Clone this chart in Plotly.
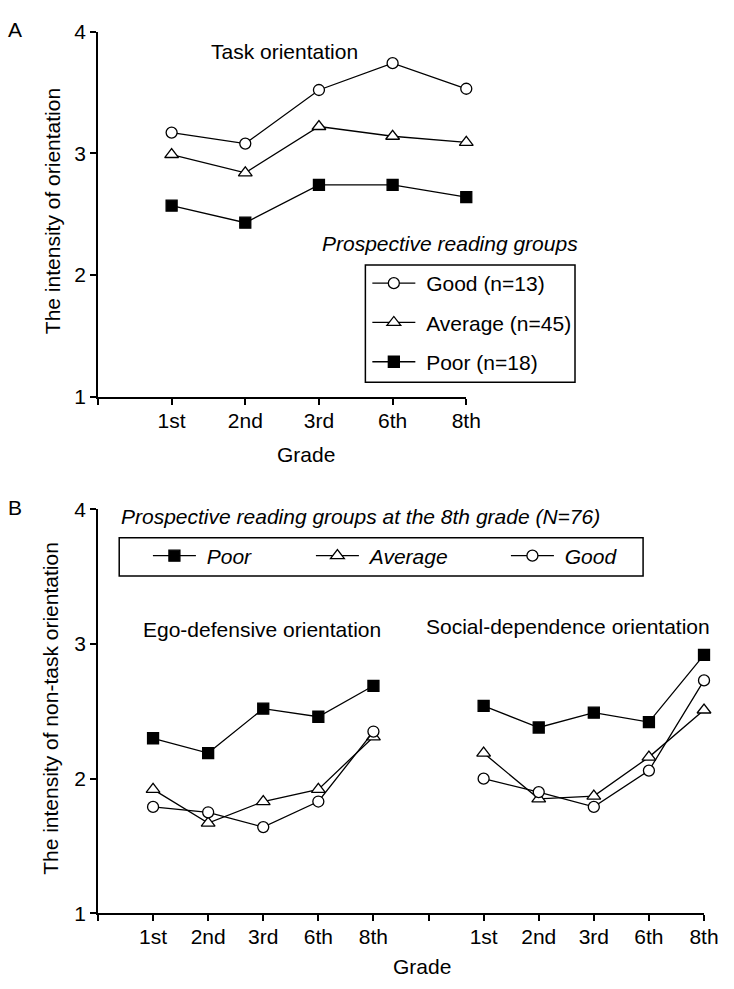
import plotly.graph_objects as go

W, H = 734, 989
FONT = "Liberation Sans, Arial, Helvetica, sans-serif"

grades = ["1st", "2nd", "3rd", "6th", "8th"]

# Panel A: task orientation
task_good = [3.17, 3.08, 3.52, 3.74, 3.53]
task_average = [2.99, 2.84, 3.22, 3.14, 3.09]
task_poor = [2.57, 2.43, 2.74, 2.74, 2.64]

# Panel B: non-task orientation (ego-defensive, social-dependence)
ego_poor = [2.30, 2.19, 2.52, 2.46, 2.69]
ego_average = [1.92, 1.67, 1.83, 1.92, 2.31]
ego_good = [1.79, 1.75, 1.64, 1.83, 2.35]
social_poor = [2.54, 2.38, 2.49, 2.42, 2.92]
social_average = [2.19, 1.85, 1.87, 2.16, 2.51]
social_good = [2.00, 1.90, 1.79, 2.06, 2.73]

y_ticks = [1, 2, 3, 4]


def px(x):
    return x / W


def py(y):
    return 1 - y / H


# category positions
posA = list(range(1, len(grades) + 1))
ego_pos = list(range(1, len(grades) + 1))
soc_pos = list(range(len(grades) + 2, 2 * len(grades) + 2))
xB = ego_pos + [None] + soc_pos

STYLE = {
    "Good": dict(symbol="circle", color="white", size=11),
    "Average": dict(symbol="triangle-up", color="white", size=12),
    "Poor": dict(symbol="square", color="black", size=11),
}


def marker(group):
    s = STYLE[group]
    return dict(symbol=s["symbol"], color=s["color"], size=s["size"],
                line=dict(color="black", width=1.3))


NB = "\u00a0"
fig = go.Figure()

# Panel A traces
for group, vals, label in [("Good", task_good, "Good (n=13)"),
                           ("Average", task_average, "Average (n=45)"),
                           ("Poor", task_poor, "Poor (n=18)")]:
    fig.add_trace(go.Scatter(
        x=posA, y=vals, mode="lines+markers", name=NB + label,
        line=dict(color="black", width=1.3), marker=marker(group),
        xaxis="x", yaxis="y", legend="legend", legendgroup="A" + group,
        cliponaxis=False, showlegend=True))

# Panel B traces
legend_w = {"Poor": 105, "Average": 137, "Good": 85}
for group, ego, soc in [("Poor", ego_poor, social_poor),
                        ("Average", ego_average, social_average),
                        ("Good", ego_good, social_good)]:
    fig.add_trace(go.Scatter(
        x=xB, y=ego + [None] + soc, mode="lines+markers", name=NB + group,
        line=dict(color="black", width=1.3), marker=marker(group),
        connectgaps=False, xaxis="x2", yaxis="y2", legend="legend2",
        legendgroup="B" + group, legendwidth=legend_w[group],
        cliponaxis=False, showlegend=True))

axis_common = dict(showline=True, linecolor="black", linewidth=1.5,
                   ticks="outside", ticklen=6, tickwidth=1.5, tickcolor="black",
                   showgrid=False, zeroline=False, fixedrange=True,
                   tickfont=dict(family=FONT, size=21, color="black"))

fig.update_layout(
    width=W, height=H,
    margin=dict(l=0, r=0, t=0, b=0),
    paper_bgcolor="white", plot_bgcolor="white",
    font=dict(family=FONT, size=21, color="black"),
    xaxis=dict(domain=[px(100), px(476)], range=[0, 5], anchor="y",
               tickmode="array", tickvals=[0] + posA, ticktext=[""] + grades,
               ticklabelstandoff=-2, **axis_common),
    yaxis=dict(domain=[py(394), py(20)], range=[1, 4], anchor="x",
               tickmode="array", tickvals=y_ticks, **axis_common),
    xaxis2=dict(domain=[px(100), px(718.7)], range=[0, 11], anchor="y2",
                tickmode="array",
                tickvals=[0] + ego_pos + [len(grades) + 1] + soc_pos,
                ticktext=[""] + grades + [""] + grades,
                ticklabelstandoff=-2, **axis_common),
    yaxis2=dict(domain=[py(922.7), py(509.3)], range=[1, 4], anchor="x2",
                tickmode="array", tickvals=y_ticks, **axis_common),
    legend=dict(x=px(375), y=py(257), xanchor="left", yanchor="top",
                bgcolor="rgba(0,0,0,0)", borderwidth=0,
                font=dict(family=FONT, size=21, color="black"),
                itemwidth=43, traceorder="grouped", tracegroupgap=9,
                itemclick=False, itemdoubleclick=False),
    legend2=dict(x=px(151), y=py(536), xanchor="left", yanchor="top",
                 orientation="h", bgcolor="rgba(0,0,0,0)", borderwidth=0,
                 font=dict(family=FONT, size=21, color="black", style="italic"),
                 itemwidth=43, traceorder="normal",
                 itemclick=False, itemdoubleclick=False),
    showlegend=True,
)

# legend boxes
fig.add_shape(type="rect", xref="paper", yref="paper",
              x0=px(373), x1=px(587), y0=py(379), y1=py(259),
              line=dict(color="black", width=1.5), fillcolor="rgba(0,0,0,0)")
fig.add_shape(type="rect", xref="paper", yref="paper",
              x0=px(121.7), x1=px(656.5), y0=py(577.5), y1=py(538.3),
              line=dict(color="black", width=1.5), fillcolor="rgba(0,0,0,0)")


def ann(text, x, y, xanchor="center", italic=False, angle=0):
    fig.add_annotation(
        text=text, x=px(x), y=py(y), xref="paper", yref="paper",
        xanchor=xanchor, yanchor="middle", showarrow=False, textangle=angle,
        font=dict(family=FONT, size=21, color="black",
                  style="italic" if italic else "normal"))


ann("A", 15, 18)
ann("B", 15, 507)
ann("Task orientation", 290, 40)
ann("Prospective reading groups", 327, 237, xanchor="left", italic=True)
ann("Grade", 312.5, 453)
ann("The intensity of orientation", 53, 204, angle=-90)
ann("Prospective reading groups at the 8th grade (N=76)", 121.7, 516.7,
    xanchor="left", italic=True)
ann("Ego-defensive orientation", 267.3, 631.7)
ann("Social-dependence orientation", 579.7, 629.3)
ann("Grade", 431, 977)
ann("The intensity of non-task orientation", 52, 712.5, angle=-90)

fig.write_html(
    "out.html",
    config={"displayModeBar": False},
    post_script="document.body.style.margin='0';"
                "document.body.style.overflow='hidden';",
)
